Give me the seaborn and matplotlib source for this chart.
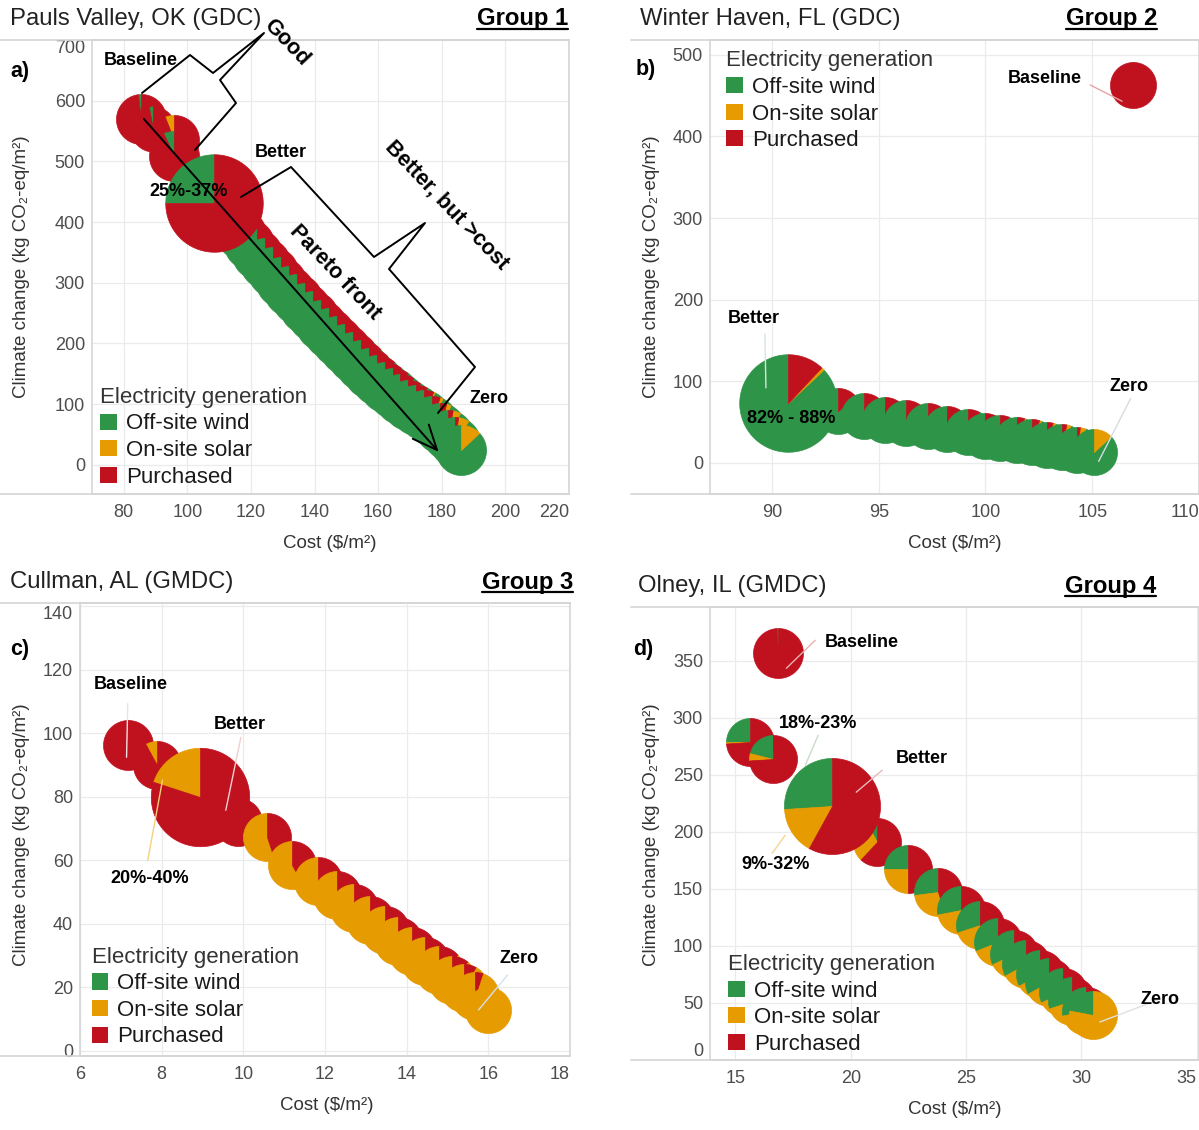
import numpy as np
import matplotlib
matplotlib.use("Agg")
import matplotlib.pyplot as plt
import seaborn as sns
from matplotlib.lines import Line2D
from matplotlib.patches import Patch

W, H, DPI = 1199, 1130, 100
SOURCES = ["Off-site wind", "On-site solar", "Purchased"]
COLORS = ["#2e9447", "#e69b00", "#c0111f"]

# ---- panel a: Pauls Valley, OK (GDC) ----
a_cost = [85.3, 89.1, 95.7, 95.7,
          117, 119.5, 122, 124.5, 127, 129.5, 132, 134.5, 137, 139.5, 142, 144.5, 147, 149.5,
          152, 154.5, 157, 159.5, 162, 164.5, 167, 169.5, 172, 174.5, 177, 179.5, 182, 184, 186,
          108.4]
a_climate = [570, 554, 536, 509,
             380, 364, 348, 333, 318, 302, 287, 273, 259, 245, 231, 217, 204, 191,
             178, 165, 152, 140, 129, 118, 108, 99, 91, 82, 72, 61, 49, 37, 25,
             432]
a_wind = [0.02, 0.03, 0.00, 0.07,
          0.70, 0.72, 0.73, 0.74, 0.75, 0.76, 0.77, 0.78, 0.79, 0.80, 0.81, 0.82, 0.83, 0.84,
          0.85, 0.86, 0.87, 0.88, 0.89, 0.90, 0.91, 0.92, 0.93, 0.93, 0.93, 0.93, 0.92, 0.91, 0.87,
          0.25]
a_solar = [0, 0, 0.06, 0,
           0, 0, 0, 0, 0, 0, 0, 0, 0, 0, 0, 0, 0, 0,
           0, 0, 0, 0, 0, 0, 0, 0, 0, 0.01, 0.02, 0.03, 0.05, 0.07, 0.13,
           0]
a_purch = [0.98, 0.97, 0.94, 0.93,
           0.30, 0.28, 0.27, 0.26, 0.25, 0.24, 0.23, 0.22, 0.21, 0.20, 0.19, 0.18, 0.17, 0.16,
           0.15, 0.14, 0.13, 0.12, 0.11, 0.10, 0.09, 0.08, 0.07, 0.06, 0.05, 0.04, 0.03, 0.02, 0.00,
           0.75]
a_size = [1.0, 0.9, 1.0, 1.0] + [1.0] * 29 + [1.95]

# ---- panel b: Winter Haven, FL (GDC) ----
b_cost = [106.9, 93.1, 94.3, 95.3, 96.3, 97.3, 98.2, 99.2, 100.0, 100.7, 101.5, 102.2, 102.9,
          103.6, 104.3, 105.1, 90.75]
b_climate = [463, 63.4, 57.3, 52.4, 48.8, 45.1, 41.5, 37.8, 32.9, 30.5, 28.0, 25.6, 22.0,
             19.5, 15.9, 13.4, 73]
b_wind = [0, 0.86, 0.87, 0.88, 0.89, 0.90, 0.91, 0.92, 0.93, 0.94, 0.94, 0.935, 0.94,
          0.94, 0.94, 0.87, 0.87]
b_solar = [0, 0, 0, 0, 0, 0, 0, 0, 0, 0, 0.01, 0.015, 0.02, 0.03, 0.04, 0.13, 0.01]
b_purch = [1.0, 0.14, 0.13, 0.12, 0.11, 0.10, 0.09, 0.08, 0.07, 0.06, 0.05, 0.05, 0.04,
           0.03, 0.02, 0.0, 0.12]
b_size = [1.0] * 16 + [2.12]

# ---- panel c: Cullman, AL (GMDC) ----
c_cost = [7.17, 7.88, 9.87, 10.58, 11.2, 11.83, 12.29, 12.71, 13.10, 13.47, 13.79, 14.13,
          14.45, 14.80, 15.12, 15.41, 15.68, 16.0, 8.93]
c_climate = [96.2, 89.9, 72.0, 67.2, 58.4, 53.4, 49.0, 44.9, 41.1, 38.0, 34.5, 31.3,
             28.2, 25.4, 22.2, 19.7, 17.2, 12.8, 79.8]
c_wind = [0] * 19
c_solar = [0, 0.08, 0.15, 0.55, 0.58, 0.62, 0.65, 0.68, 0.71, 0.74, 0.77, 0.80,
           0.83, 0.86, 0.89, 0.92, 0.95, 1.0, 0.20]
c_purch = [1.0, 0.92, 0.85, 0.45, 0.42, 0.38, 0.35, 0.32, 0.29, 0.26, 0.23, 0.20,
           0.17, 0.14, 0.11, 0.08, 0.05, 0.0, 0.80]
c_size = [1.04] + [1.0] * 16 + [0.96, 2.05]

# ---- panel d: Olney, IL (GMDC) ----
d_cost = [16.86, 15.65, 16.65, 21.15, 22.5, 23.8, 24.8, 25.6, 26.4, 27.1, 27.6, 28.2,
          28.6, 29.2, 29.6, 30.2, 30.5, 19.2]
d_climate = [357, 278.5, 263.6, 190.9, 167.3, 147.1, 131.3, 118.2, 103.3, 92.8, 84.1, 75.3,
             68.3, 59.5, 51.7, 42.9, 39.4, 222.4]
d_wind = [0.01, 0.25, 0.21, 0.08, 0.25, 0.27, 0.28, 0.30, 0.31, 0.32, 0.33, 0.33,
          0.33, 0.32, 0.30, 0.28, 0.22, 0.26]
d_solar = [0, 0.01, 0.05, 0.30, 0.25, 0.28, 0.30, 0.32, 0.34, 0.36, 0.38, 0.41,
           0.44, 0.48, 0.53, 0.58, 0.78, 0.16]
d_purch = [0.99, 0.74, 0.74, 0.62, 0.50, 0.45, 0.42, 0.38, 0.35, 0.32, 0.29, 0.26,
           0.23, 0.20, 0.17, 0.14, 0.0, 0.58]
d_size = [1.04] + [1.0] * 16 + [2.0]

sns.set_theme(style="whitegrid")
plt.rcParams["font.family"] = ["Liberation Sans", "DejaVu Sans"]

fig = plt.figure(figsize=(W / DPI, H / DPI), dpi=DPI)
fig.patch.set_facecolor("white")


def fx(px):
    return px / W


def fy(py):
    return 1 - py / H


def draw_pies(ax, cost, climate, wind, solar, purch, size, base_r):
    for i in range(len(cost)):
        shares = np.array([wind[i], solar[i], purch[i]], dtype=float)
        shares = shares / shares.sum()
        r_pt = base_r * size[i] * 72 / DPI
        start = 90.0
        for share, col in zip(shares, COLORS):
            if share <= 0:
                continue
            end = start + 360 * share
            th = np.radians(np.linspace(start, end, max(3, int(share * 200))))
            verts = np.vstack([[0, 0], np.column_stack([np.cos(th), np.sin(th)]), [0, 0]])
            k = np.abs(verts).max()
            sns.scatterplot(x=[cost[i]], y=[climate[i]], marker=verts,
                            s=(2 * r_pt * k) ** 2, color=col, edgecolor=col,
                            linewidth=0.5, zorder=3 + i * 0.01, legend=False, ax=ax)
            start = end


def setup(ax, xlim, ylim, xticks, yticks, top_edge_label=False, bottom_edge_label=False):
    ax.set_facecolor("white")
    ax.set_xlim(xlim)
    ax.set_ylim(ylim)
    ax.set_xticks(xticks)
    ax.set_yticks(yticks)
    ax.grid(True, color="#ebebeb", lw=0.9)
    ax.set_axisbelow(True)
    for sp in ax.spines.values():
        sp.set_visible(True)
        sp.set_color("#d5d5d5")
        sp.set_linewidth(1.2)
    ax.tick_params(axis="x", length=0, labelsize=13, labelcolor="#4d4d4d", pad=7)
    ax.tick_params(axis="y", length=0, labelsize=13, labelcolor="#4d4d4d", pad=5)
    ax.set_xlabel("")
    ax.set_ylabel("")
    ax.get_xticklabels()[-1].set_ha("right")
    if top_edge_label:
        ax.get_yticklabels()[-1].set_va("top")
    if bottom_edge_label:
        ax.get_yticklabels()[0].set_va("bottom")


def legend(ax, x, y):
    handles = [Patch(facecolor=c, edgecolor="none") for c in COLORS]
    leg = ax.legend(handles, SOURCES, title="Electricity generation", loc="upper left",
                    bbox_to_anchor=(x, y), frameon=False, fontsize=16, title_fontsize=16,
                    handlelength=0.75, handleheight=0.75, handletextpad=0.4,
                    labelspacing=0.25, borderpad=0, borderaxespad=0, alignment="left")
    leg.get_title().set_color("#333333")
    for t in leg.get_texts():
        t.set_color("#1a1a1a")
    leg.set_zorder(10)


def note(ax, txt, x, y, size=13):
    ax.text(x, y, txt, ha="center", va="center", fontsize=size, fontweight="bold",
            color="black", zorder=8)


def pointer(ax, x0, y0, x1, y1, color):
    ax.plot([x0, x1], [y0, y1], color=color, lw=1.0, zorder=7, solid_capstyle="round")


panels = [
    dict(pos=(92, 40, 569, 494), title="Pauls Valley, OK (GDC)", group="Group 1",
         tx=10, ty=19, label="a)", lx=10, ly=71, xl=(330, 544), yl=(22, 267)),
    dict(pos=(710, 40, 1199, 494), title="Winter Haven, FL (GDC)", group="Group 2",
         tx=640, ty=19, label="b)", lx=636, ly=69, xl=(955, 544), yl=(651, 267)),
    dict(pos=(80, 603, 570, 1056), title="Cullman, AL (GMDC)", group="Group 3",
         tx=10, ty=582, label="c)", lx=10, ly=649, xl=(327, 1106), yl=(22, 835)),
    dict(pos=(710, 607, 1199, 1060), title="Olney, IL (GMDC)", group="Group 4",
         tx=638, ty=586, label="d)", lx=633, ly=650, xl=(955, 1110), yl=(651, 835)),
]
group_right = [568, 1157, 573, 1156]
frame_left = [0, 631, 0, 631]

axes = []
for p in panels:
    l, t, r, b = p["pos"]
    ax = fig.add_axes([fx(l), fy(b), (r - l) / W, (b - t) / H])
    axes.append(ax)

ax_a, ax_b, ax_c, ax_d = axes

draw_pies(ax_a, a_cost, a_climate, a_wind, a_solar, a_purch, a_size, 25)
draw_pies(ax_b, b_cost, b_climate, b_wind, b_solar, b_purch, b_size, 23)
draw_pies(ax_c, c_cost, c_climate, c_wind, c_solar, c_purch, c_size, 24)
draw_pies(ax_d, d_cost, d_climate, d_wind, d_solar, d_purch, d_size, 24)

setup(ax_a, (70, 220), (-48, 700), range(80, 221, 20), range(0, 701, 100), top_edge_label=True)
setup(ax_b, (87.1, 110), (-38, 518), [90, 95, 100, 105, 110], range(0, 501, 100))
setup(ax_c, (6, 18), (-1.7, 141), range(6, 19, 2), range(0, 141, 20), top_edge_label=True)
setup(ax_d, (13.9, 35.1), (0, 397), range(15, 36, 5), range(0, 351, 50), bottom_edge_label=True)

legend(ax_a, 0.017, 0.236)
legend(ax_b, 0.033, 0.977)
legend(ax_c, 0.024, 0.241)
legend(ax_d, 0.037, 0.234)

# annotations
note(ax_a, "Baseline", 85.3, 666)
note(ax_a, "Better", 129.4, 514)
note(ax_a, "25%-37%", 100.5, 450)
note(ax_a, "Zero", 195, 109)
ax_a.annotate("", xy=(179, 21.5), xytext=(86.3, 570),
              arrowprops=dict(arrowstyle="->,head_length=0.8,head_width=0.35", color="black",
                              lw=1.4, shrinkA=0, shrinkB=0, mutation_scale=22), zorder=9)

note(ax_b, "Baseline", 102.76, 470.7)
note(ax_b, "Better", 89.16, 177)
note(ax_b, "82% - 88%", 90.9, 55)
note(ax_b, "Zero", 106.7, 94)
pointer(ax_b, 104.9, 463, 106.4, 443, "#e6a3a8")
pointer(ax_b, 89.67, 158, 89.72, 92, "#d8e6d8")
pointer(ax_b, 106.8, 79, 105.3, 2, "#d6dde0")

note(ax_c, "Baseline", 7.24, 115.4)
note(ax_c, "Better", 9.91, 102.8)
note(ax_c, "20%-40%", 7.71, 54.3)
note(ax_c, "Zero", 16.76, 29.1)
pointer(ax_c, 7.17, 109.4, 7.14, 92.4, "#f0e0e0")
pointer(ax_c, 9.94, 98.7, 9.57, 75.7, "#f0d0d0")
pointer(ax_c, 7.66, 60, 8.02, 85.2, "#f2d27a")
pointer(ax_c, 16.47, 23.8, 15.76, 12.8, "#d6e0f0")

note(ax_d, "Baseline", 20.5, 366)
note(ax_d, "18%-23%", 18.6, 295)
note(ax_d, "Better", 23.1, 264.4)
note(ax_d, "9%-32%", 16.73, 171.6)
note(ax_d, "Zero", 33.4, 53.4)
pointer(ax_d, 18.46, 367.8, 17.21, 343.3, "#eab0b0")
pointer(ax_d, 18.59, 284.6, 18.03, 258.3, "#c8dcc8")
pointer(ax_d, 21.36, 253.9, 20.24, 234.7, "#eab8b8")
pointer(ax_d, 16.6, 181.3, 17.16, 197, "#f0d890")
pointer(ax_d, 33.3, 52.5, 30.8, 33.3, "#e0e0e0")

# braces and rotated remarks of panel a (reference pixel positions)
brace_good = [(142, 93), (190, 55), (213, 73), (264, 33), (220, 80), (236, 103), (195, 150)]
brace_cost = [(241, 197), (291, 167), (374, 257), (425, 223), (389, 269), (475, 367), (438, 413)]
for pts in (brace_good, brace_cost):
    fig.add_artist(Line2D([fx(p[0]) for p in pts], [fy(p[1]) for p in pts],
                          transform=fig.transFigure, color="black", lw=1.4,
                          solid_joinstyle="round", zorder=20))
for txt, px, py in [("Good", 286, 43), ("Better, but >cost", 447, 205), ("Pareto front", 335, 272)]:
    fig.text(fx(px), fy(py), txt, rotation=-46.5, ha="center", va="center",
             rotation_mode="anchor", fontsize=15.5, fontweight="bold", color="black", zorder=20)

# titles, panel letters, axis titles, frame lines
group_texts = []
for p, gr, fl in zip(panels, group_right, frame_left):
    l, t, r, b = p["pos"]
    fig.text(fx(p["tx"]), fy(p["ty"]), p["title"], ha="left", va="center", fontsize=17.2,
             color="#222222")
    g = fig.text(fx(gr), fy(p["ty"]), p["group"], ha="right", va="center", fontsize=17.2,
                 fontweight="bold", color="black")
    group_texts.append(g)
    fig.text(fx(p["lx"]), fy(p["ly"]), p["label"], ha="left", va="center", fontsize=15.5,
             fontweight="bold", color="black")
    fig.text(fx(p["xl"][0]), fy(p["xl"][1]), "Cost ($/m²)", ha="center", va="center",
             fontsize=13.5, color="#333333")
    fig.text(fx(p["yl"][0]), fy(p["yl"][1]), "Climate change (kg CO₂-eq/m²)", ha="center",
             va="center", rotation=90, fontsize=13.5, color="#333333")
    for yy in (t, b):
        fig.add_artist(Line2D([fx(fl), fx(r)], [fy(yy), fy(yy)], transform=fig.transFigure,
                              color="#d5d5d5", lw=1.2))

fig.canvas.draw()
renderer = fig.canvas.get_renderer()
inv = fig.transFigure.inverted()
for g in group_texts:
    bb = g.get_window_extent(renderer)
    (x0, y0), (x1, _) = inv.transform([(bb.x0, bb.y0 + 1.5), (bb.x1, bb.y0)])
    fig.add_artist(Line2D([x0, x1], [y0, y0], transform=fig.transFigure, color="black", lw=1.6))

fig.savefig("out.png", dpi=DPI, facecolor="white")
